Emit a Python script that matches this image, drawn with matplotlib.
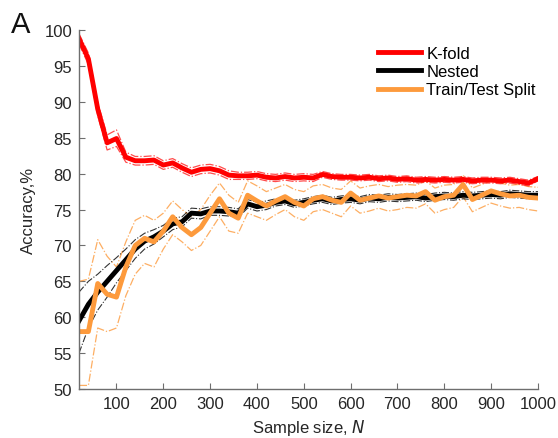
import matplotlib.pyplot as plt

plt.rcParams['font.family'] = ['Liberation Sans', 'DejaVu Sans']

# sample sizes, step of 20
sizes = list(range(20, 1001, 20))

kfold = [98.8, 96.0, 89.0, 84.3, 84.9, 82.3, 81.8, 81.8, 81.9, 81.2,
         81.5, 80.8, 80.2, 80.6, 80.7, 80.4, 79.8, 79.7, 79.7, 79.8,
         79.5, 79.4, 79.6, 79.4, 79.5, 79.4, 79.9, 79.6, 79.5, 79.5,
         79.4, 79.5, 79.3, 79.4, 79.2, 79.3, 79.1, 79.2, 79.1, 79.2,
         79.1, 79.2, 79.0, 79.1, 79.1, 79.0, 79.1, 78.9, 78.7, 79.3]
kfold_hi = [99.5, 96.8, 89.9, 85.4, 86.1, 83.0, 82.4, 82.4, 82.5, 81.8,
            82.1, 81.4, 80.8, 81.2, 81.3, 81.0, 80.4, 80.2, 80.2, 80.3,
            80.0, 79.9, 80.1, 79.9, 80.0, 79.9, 80.3, 80.0, 79.9, 79.9,
            79.8, 79.9, 79.7, 79.8, 79.6, 79.7, 79.5, 79.6, 79.5, 79.6,
            79.5, 79.6, 79.4, 79.5, 79.5, 79.4, 79.5, 79.3, 79.1, 79.6]
kfold_lo = [98.1, 95.2, 88.1, 83.3, 83.8, 81.6, 81.2, 81.2, 81.3, 80.6,
            80.9, 80.2, 79.6, 80.0, 80.1, 79.8, 79.2, 79.2, 79.2, 79.3,
            79.0, 78.9, 79.1, 78.9, 79.0, 78.9, 79.5, 79.2, 79.1, 79.1,
            79.0, 79.1, 78.9, 79.0, 78.8, 78.9, 78.7, 78.8, 78.7, 78.8,
            78.7, 78.8, 78.6, 78.7, 78.7, 78.6, 78.7, 78.5, 78.3, 79.0]

nested = [59.5, 61.8, 63.5, 65.0, 66.5, 68.0, 69.5, 70.6, 71.2, 72.0,
          73.0, 73.3, 74.5, 74.4, 74.8, 74.8, 74.7, 74.5, 75.8, 75.4,
          75.6, 76.0, 76.2, 75.8, 76.0, 76.3, 76.5, 76.2, 76.4, 76.5,
          76.3, 76.6, 76.5, 76.7, 76.6, 76.7, 76.8, 76.6, 76.8, 76.9,
          76.8, 77.0, 76.9, 77.0, 77.1, 77.0, 77.2, 77.1, 77.0, 77.0]
nested_hi = [63.5, 65.0, 66.0, 67.2, 68.3, 69.5, 70.8, 71.7, 72.2, 72.8,
             73.8, 74.0, 75.2, 75.1, 75.4, 75.4, 75.3, 75.1, 76.4, 76.0,
             76.2, 76.5, 76.7, 76.3, 76.5, 76.8, 77.0, 76.7, 76.9, 77.0,
             76.8, 77.1, 77.0, 77.2, 77.1, 77.2, 77.3, 77.1, 77.3, 77.4,
             77.3, 77.5, 77.4, 77.5, 77.6, 77.5, 77.7, 77.6, 77.5, 77.5]
nested_lo = [55.0, 58.5, 61.0, 62.8, 64.8, 66.5, 68.2, 69.5, 70.2, 71.2,
             72.2, 72.6, 73.8, 73.7, 74.2, 74.2, 74.1, 73.9, 75.2, 74.8,
             75.0, 75.5, 75.7, 75.3, 75.5, 75.8, 76.0, 75.7, 75.9, 76.0,
             75.8, 76.1, 76.0, 76.2, 76.1, 76.2, 76.3, 76.1, 76.3, 76.4,
             76.3, 76.5, 76.4, 76.5, 76.6, 76.5, 76.7, 76.6, 76.5, 76.5]

split = [58.0, 58.0, 64.7, 63.2, 62.8, 67.0, 70.0, 71.0, 70.5, 72.0,
         74.0, 72.5, 71.5, 72.5, 74.5, 76.5, 74.5, 73.8, 77.0, 76.2,
         75.5, 76.2, 76.8, 76.0, 75.5, 76.5, 76.8, 76.3, 76.0, 77.3,
         76.3, 76.6, 76.9, 76.6, 76.8, 77.0, 76.9, 77.5, 76.3, 76.8,
         77.0, 78.5, 76.4, 77.0, 77.6, 77.2, 76.9, 77.0, 76.7, 76.6]
split_hi = [65.0, 65.3, 70.8, 68.5, 67.0, 70.5, 73.5, 74.2, 73.5, 74.5,
            76.2, 75.0, 74.0, 75.0, 77.0, 78.7, 77.0, 76.0, 79.0, 78.3,
            77.5, 78.0, 78.5, 77.8, 77.5, 78.3, 78.5, 78.0, 77.8, 79.0,
            78.0, 78.3, 78.5, 78.2, 78.4, 78.5, 78.4, 79.0, 78.0, 78.4,
            78.5, 79.8, 78.0, 78.5, 79.0, 78.7, 78.4, 78.5, 78.2, 78.1]
split_lo = [50.5, 50.5, 58.5, 58.0, 58.5, 63.0, 66.0, 67.5, 67.0, 69.5,
            71.5, 70.5, 69.3, 70.0, 72.0, 74.0, 72.0, 71.7, 74.5, 74.0,
            73.5, 74.3, 75.0, 74.0, 73.5, 74.7, 75.0, 74.5, 74.0, 75.5,
            74.5, 74.8, 75.2, 74.8, 75.0, 75.3, 75.2, 75.8, 74.5, 75.0,
            75.3, 76.8, 74.7, 75.3, 75.9, 75.5, 75.2, 75.3, 75.0, 74.8]

RED = '#ff0000'
BLACK = '#000000'
ORANGE = '#fd9a3c'

fig = plt.figure(figsize=(5.58, 4.39), dpi=100)
ax = fig.add_axes([0.1416, 0.1116, 0.8225, 0.8175])

# thin dash-dot bands first, thick means on top
ax.plot(sizes, split_hi, '-.', color=ORANGE, lw=0.9, alpha=0.8)
ax.plot(sizes, split_lo, '-.', color=ORANGE, lw=0.9, alpha=0.8)
ax.plot(sizes, nested_hi, '-.', color=BLACK, lw=0.8, alpha=0.8)
ax.plot(sizes, nested_lo, '-.', color=BLACK, lw=0.8, alpha=0.8)
ax.plot(sizes, kfold_hi, '-.', color=RED, lw=0.9, alpha=0.7)
ax.plot(sizes, kfold_lo, '-.', color=RED, lw=0.9, alpha=0.7)

ax.plot(sizes, kfold, color=RED, lw=3.5, label='K-fold')
ax.plot(sizes, nested, color=BLACK, lw=3.5, label='Nested')
ax.plot(sizes, split, color=ORANGE, lw=3.5, label='Train/Test Split')

ax.set_xlim(20, 1000)
ax.set_ylim(50, 100)
ax.set_xticks(range(100, 1001, 100))
ax.set_yticks(range(50, 101, 5))

for side in ('top', 'right'):
    ax.spines[side].set_visible(False)
for side in ('left', 'bottom'):
    ax.spines[side].set_color('#6e6e6e')
    ax.spines[side].set_linewidth(1.0)
ax.tick_params(direction='in', length=4, color='#6e6e6e', labelsize=12,
               labelcolor='#262626', pad=5)

ax.set_xlabel('Sample size, $\\it{N}$', fontsize=12, color='#262626', labelpad=4)
ax.set_ylabel('Accuracy,%', fontsize=12, color='#262626', labelpad=6)

ax.legend(loc='upper left', bbox_to_anchor=(0.637, 0.975), frameon=False,
          fontsize=12, handlelength=2.6, handletextpad=0.3, labelspacing=0.2,
          borderaxespad=0)

fig.text(0.02, 0.925, 'A', fontsize=21, color='#111111')

fig.savefig('out.png', dpi=100)
